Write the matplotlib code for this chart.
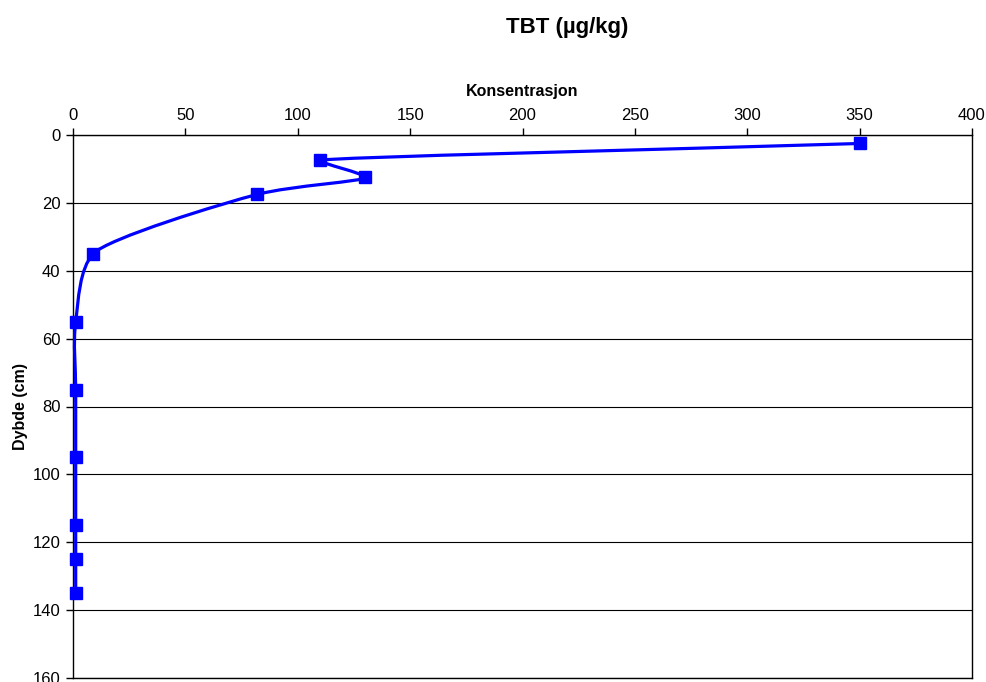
import numpy as np
import matplotlib.pyplot as plt
from matplotlib.path import Path
from matplotlib.patches import PathPatch

plt.rcParams['font.family'] = ['Liberation Sans', 'DejaVu Sans']

# TBT concentration vs depth
depth = [2.5, 7.5, 12.5, 17.5, 35, 55, 75, 95, 115, 125, 135]
conc = [350, 110, 130, 82, 9, 1.2, 1.2, 1.2, 1.2, 1.2, 1.2]

W, H = 9.86, 6.82
pos = [73 / 986, 4 / 682, 899 / 986, 543 / 682]
xlim = (0, 400)
ylim = (160, 0)


def smooth_path(x, y, sx, sy):
    # Excel-like smoothed line, built in screen-like units
    pts = np.column_stack([np.asarray(x) * sx, np.asarray(y) * sy])
    n = len(pts)
    seg = [np.linalg.norm(pts[i + 1] - pts[i]) for i in range(n - 1)]
    tang = []
    for i in range(n):
        if i == 0 or i == n - 1:
            j = 0 if i == 0 else n - 2
            d = pts[j + 1] - pts[j]
            tang.append(d / np.linalg.norm(d) * seg[j])
        else:
            a = pts[i] - pts[i - 1]
            b = pts[i + 1] - pts[i]
            t = (a / np.linalg.norm(a) + b / np.linalg.norm(b)) / 2
            tang.append(t * min(seg[i - 1], seg[i]))
    verts = [pts[0]]
    codes = [Path.MOVETO]
    for i in range(n - 1):
        c1 = pts[i] + tang[i] / 3
        c2 = pts[i + 1] - tang[i + 1] / 3
        verts += [c1, c2, pts[i + 1]]
        codes += [Path.CURVE4] * 3
    verts = np.array(verts) / np.array([sx, sy])
    return Path(verts, codes)


fig = plt.figure(figsize=(W, H), dpi=100)
ax = fig.add_axes(pos)

ax.set_xlim(*xlim)
ax.set_ylim(*ylim)
ax.set_xticks(np.arange(0, 401, 50))
ax.set_yticks(np.arange(0, 161, 20))
ax.xaxis.tick_top()
ax.xaxis.set_label_position('top')
ax.tick_params(axis='both', direction='out', length=5, width=1, labelsize=12)
ax.tick_params(axis='x', pad=4)
ax.tick_params(axis='y', pad=4)
ax.grid(axis='y', color='black', linewidth=0.8)
ax.set_axisbelow(True)
for s in ax.spines.values():
    s.set_linewidth(1.0)
    s.set_color('black')

sx = W * 100 * pos[2] / (xlim[1] - xlim[0])
sy = H * 100 * pos[3] / (ylim[0] - ylim[1])
ax.add_patch(PathPatch(smooth_path(conc, depth, sx, sy), facecolor='none',
                       edgecolor='#0000FF', linewidth=2.3, zorder=3,
                       clip_on=False))
ax.plot(conc, depth, linestyle='none', marker='s', markersize=8,
        color='#0000FF', zorder=4, clip_on=False)

ax.set_xlabel('Konsentrasjon', fontsize=11.5, fontweight='bold', labelpad=8)
ax.set_ylabel('Dybde (cm)', fontsize=11.5, fontweight='bold', labelpad=3)
fig.text(567 / 986, 1 - 27 / 682, 'TBT (µg/kg)', ha='center', va='center',
         fontsize=16, fontweight='bold')

fig.savefig('out.png', dpi=100)
